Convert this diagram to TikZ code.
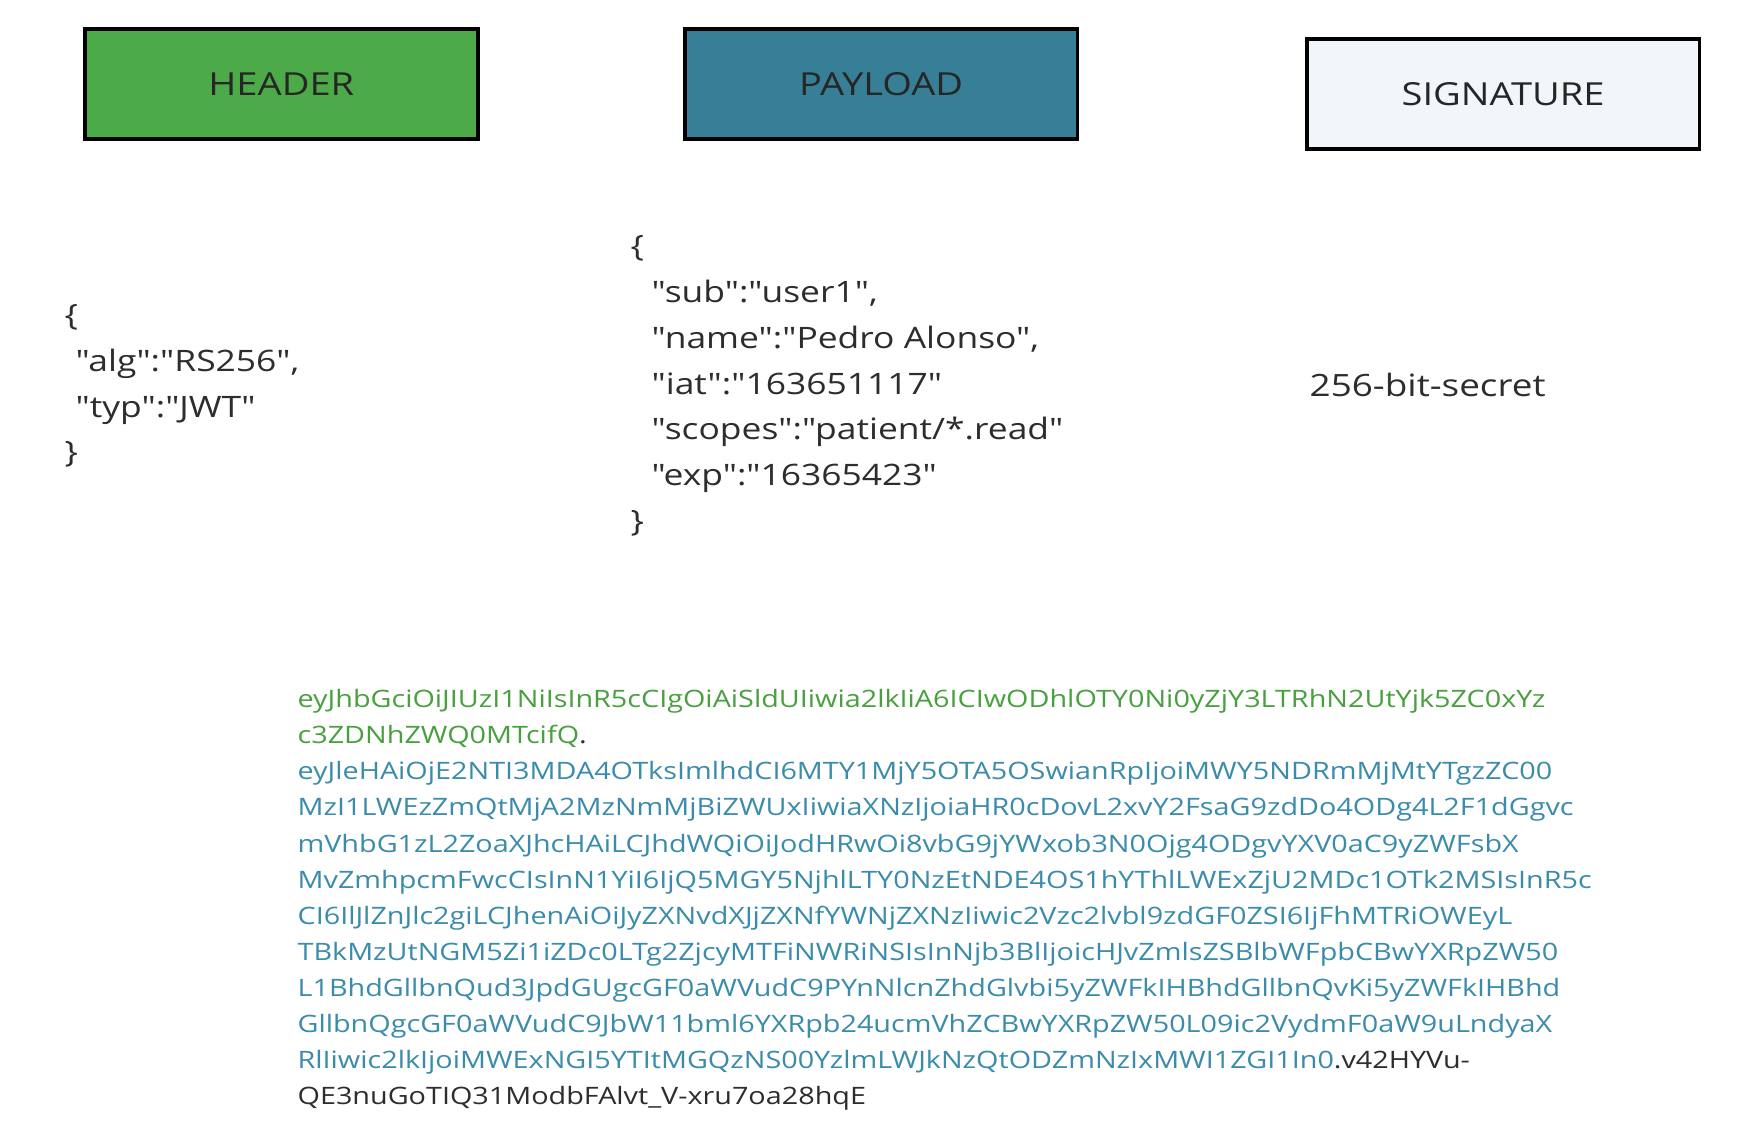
\documentclass[tikz,border=0pt]{standalone}
\usepackage{fontspec}
\setmainfont{Open Sans}[Ligatures=TeXOff, FakeStretch=1.2]
\usepackage{xcolor}
\usetikzlibrary{positioning}

\definecolor{hdrgreen}{RGB}{76,170,72}
\definecolor{payteal}{RGB}{55,127,150}
\definecolor{sigfill}{RGB}{240,246,249}
\definecolor{hdrtext}{RGB}{72,160,62}
\definecolor{paytext}{RGB}{58,140,170}
\definecolor{jsontext}{RGB}{45,45,45}

\newcommand{\jind}{\hspace*{10pt}}
\newcommand{\pind}{\hspace*{19pt}}

\begin{document}
\begin{tikzpicture}[
    x=1pt, y=-1pt,
    node distance=183pt,
    part/.style={rectangle, draw=black, line width=3.5pt, minimum width=354pt, minimum height=99pt, font=\fontsize{28.6}{36}\selectfont, text=black!85},
    json/.style={anchor=north west, align=left, inner sep=0pt, font=\fontsize{26.6}{41.3}\selectfont, text=jsontext},
    secret/.style={anchor=west, inner sep=0pt, font=\fontsize{27.7}{34}\selectfont, text=jsontext},
    token/.style={anchor=north west, align=left, inner sep=0pt, font=\fontsize{21.6}{32.55}\selectfont}
]
\useasboundingbox[fill=white] (0,0) rectangle (1568,1010);

% Parts of the token
\node[part, fill=hdrgreen] (header) at (253.5,76) {HEADER};
\node[part, fill=payteal, right=of header] (payload) {PAYLOAD};
\node[part, fill=sigfill, right=203pt of payload, yshift=-9pt] (signature) {SIGNATURE};

% Decoded contents
\node[json] (hdrjson) at (58,274) {
    \{ \\
    \jind"alg":"RS256", \\
    \jind"typ":"JWT" \\
    \}
};
\node[json] (payjson) at (568,212) {
    \{ \\
    \pind"sub":"user1", \\
    \pind"name":"Pedro Alonso", \\
    \pind"iat":"163651117" \\
    \pind"scopes":"patient/*.read" \\
    \pind"exp":"16365423" \\
    \}
};
\node[secret] (secret) at (1180,347) {256-bit-secret};

% Encoded token
\node[token] (encoded) at (268,621) {
    \textcolor{hdrtext}{eyJhbGciOiJIUzI1NiIsInR5cCIgOiAiSldUIiwia2lkIiA6ICIwODhlOTY0Ni0yZjY3LTRhN2UtYjk5ZC0xYz} \\
    \textcolor{hdrtext}{c3ZDNhZWQ0MTcifQ}\textcolor{jsontext}{.} \\
    \textcolor{paytext}{eyJleHAiOjE2NTI3MDA4OTksImlhdCI6MTY1MjY5OTA5OSwianRpIjoiMWY5NDRmMjMtYTgzZC00} \\
    \textcolor{paytext}{MzI1LWEzZmQtMjA2MzNmMjBiZWUxIiwiaXNzIjoiaHR0cDovL2xvY2FsaG9zdDo4ODg4L2F1dGgvc} \\
    \textcolor{paytext}{mVhbG1zL2ZoaXJhcHAiLCJhdWQiOiJodHRwOi8vbG9jYWxob3N0Ojg4ODgvYXV0aC9yZWFsbX} \\
    \textcolor{paytext}{MvZmhpcmFwcCIsInN1YiI6IjQ5MGY5NjhlLTY0NzEtNDE4OS1hYThlLWExZjU2MDc1OTk2MSIsInR5c} \\
    \textcolor{paytext}{CI6IlJlZnJlc2giLCJhenAiOiJyZXNvdXJjZXNfYWNjZXNzIiwic2Vzc2lvbl9zdGF0ZSI6IjFhMTRiOWEyL} \\
    \textcolor{paytext}{TBkMzUtNGM5Zi1iZDc0LTg2ZjcyMTFiNWRiNSIsInNjb3BlIjoicHJvZmlsZSBlbWFpbCBwYXRpZW50} \\
    \textcolor{paytext}{L1BhdGllbnQud3JpdGUgcGF0aWVudC9PYnNlcnZhdGlvbi5yZWFkIHBhdGllbnQvKi5yZWFkIHBhd} \\
    \textcolor{paytext}{GllbnQgcGF0aWVudC9JbW11bml6YXRpb24ucmVhZCBwYXRpZW50L09ic2VydmF0aW9uLndyaX} \\
    \textcolor{paytext}{RlIiwic2lkIjoiMWExNGI5YTItMGQzNS00YzlmLWJkNzQtODZmNzIxMWI1ZGI1In0}\textcolor{jsontext}{.v42HYVu-} \\
    \textcolor{jsontext}{QE3nuGoTIQ31ModbFAlvt\_V-xru7oa28hqE}
};

\end{tikzpicture}
\end{document}
